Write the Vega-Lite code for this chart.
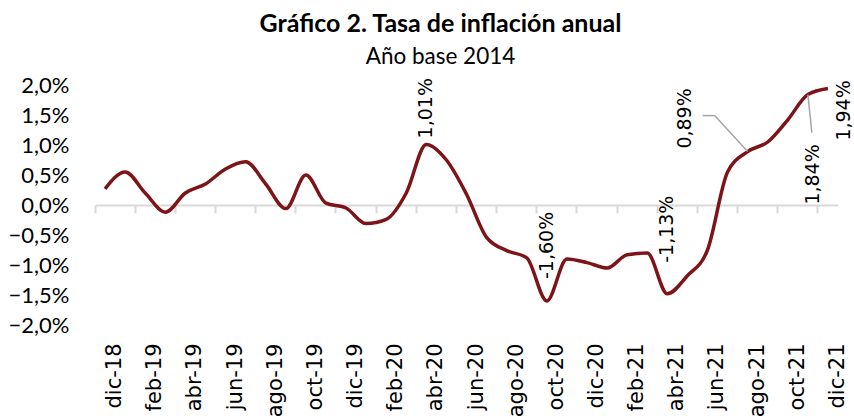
{
  "$schema": "https://vega.github.io/schema/vega-lite/v6.json",
  "width": 743,
  "height": 240,
  "autosize": {"type": "none"},
  "padding": {"left": 95, "top": 85, "right": 16, "bottom": 91},
  "background": "white",
  "title": {
    "text": "Gráfico 2. Tasa de inflación anual",
    "subtitle": "Año base 2014",
    "font": "Lato",
    "fontSize": 25,
    "fontWeight": "bold",
    "color": "black",
    "subtitleFont": "Lato",
    "subtitleFontSize": 22.5,
    "subtitleColor": "black",
    "subtitlePadding": 9,
    "anchor": "middle",
    "frame": "group",
    "dx": -26,
    "offset": 6
  },
  "config": {"view": {"stroke": null}},
  "data": {
    "values": [
      {"mes": "dic-18", "inflacion": 0.27, "etiqueta": ""},
      {"mes": "ene-19", "inflacion": 0.55, "etiqueta": ""},
      {"mes": "feb-19", "inflacion": 0.20, "etiqueta": ""},
      {"mes": "mar-19", "inflacion": -0.12, "etiqueta": ""},
      {"mes": "abr-19", "inflacion": 0.20, "etiqueta": ""},
      {"mes": "may-19", "inflacion": 0.35, "etiqueta": ""},
      {"mes": "jun-19", "inflacion": 0.60, "etiqueta": ""},
      {"mes": "jul-19", "inflacion": 0.72, "etiqueta": ""},
      {"mes": "ago-19", "inflacion": 0.35, "etiqueta": ""},
      {"mes": "sep-19", "inflacion": -0.06, "etiqueta": ""},
      {"mes": "oct-19", "inflacion": 0.50, "etiqueta": ""},
      {"mes": "nov-19", "inflacion": 0.03, "etiqueta": ""},
      {"mes": "dic-19", "inflacion": -0.05, "etiqueta": ""},
      {"mes": "ene-20", "inflacion": -0.31, "etiqueta": ""},
      {"mes": "feb-20", "inflacion": -0.24, "etiqueta": ""},
      {"mes": "mar-20", "inflacion": 0.20, "etiqueta": ""},
      {"mes": "abr-20", "inflacion": 1.01, "etiqueta": "1,01%"},
      {"mes": "may-20", "inflacion": 0.75, "etiqueta": ""},
      {"mes": "jun-20", "inflacion": 0.18, "etiqueta": ""},
      {"mes": "jul-20", "inflacion": -0.54, "etiqueta": ""},
      {"mes": "ago-20", "inflacion": -0.76, "etiqueta": ""},
      {"mes": "sep-20", "inflacion": -0.88, "etiqueta": ""},
      {"mes": "oct-20", "inflacion": -1.60, "etiqueta": "-1,60%"},
      {"mes": "nov-20", "inflacion": -0.90, "etiqueta": ""},
      {"mes": "dic-20", "inflacion": -0.96, "etiqueta": ""},
      {"mes": "ene-21", "inflacion": -1.05, "etiqueta": ""},
      {"mes": "feb-21", "inflacion": -0.83, "etiqueta": ""},
      {"mes": "mar-21", "inflacion": -0.80, "etiqueta": ""},
      {"mes": "abr-21", "inflacion": -1.48, "etiqueta": "-1,13%"},
      {"mes": "may-21", "inflacion": -1.18, "etiqueta": ""},
      {"mes": "jun-21", "inflacion": -0.75, "etiqueta": ""},
      {"mes": "jul-21", "inflacion": 0.55, "etiqueta": ""},
      {"mes": "ago-21", "inflacion": 0.89, "etiqueta": "0,89%"},
      {"mes": "sep-21", "inflacion": 1.05, "etiqueta": ""},
      {"mes": "oct-21", "inflacion": 1.42, "etiqueta": ""},
      {"mes": "nov-21", "inflacion": 1.84, "etiqueta": "1,84%"},
      {"mes": "dic-21", "inflacion": 1.94, "etiqueta": "1,94%"}
    ]
  },
  "encoding": {
    "x": {
      "field": "mes",
      "type": "ordinal",
      "sort": null,
      "scale": {"paddingInner": 0, "paddingOuter": 0},
      "axis": {
        "title": null,
        "orient": "bottom",
        "offset": -120,
        "values": ["dic-18", "feb-19", "abr-19", "jun-19", "ago-19", "oct-19", "dic-19", "feb-20", "abr-20", "jun-20", "ago-20", "oct-20", "dic-20", "feb-21", "abr-21", "jun-21", "ago-21", "oct-21", "dic-21"],
        "bandPosition": 0,
        "labelOffset": 10,
        "labelAngle": 270,
        "labelAlign": "right",
        "labelBaseline": "middle",
        "labelPadding": 130,
        "labelFont": "DejaVu Sans",
        "labelFontSize": 21,
        "labelColor": "black",
        "domain": true,
        "domainColor": "#d9d9d9",
        "domainWidth": 2,
        "ticks": true,
        "tickColor": "#d9d9d9",
        "tickWidth": 2,
        "tickSize": 8,
        "grid": false
      }
    },
    "y": {
      "field": "inflacion",
      "type": "quantitative",
      "scale": {"domain": [-2, 2], "nice": false},
      "axis": {
        "title": null,
        "values": [-2, -1.5, -1, -0.5, 0, 0.5, 1, 1.5, 2],
        "labelExpr": "replace(format(datum.value, '.1f'), '.', ',') + '%'",
        "labelFont": "Lato",
        "labelFontSize": 22,
        "labelColor": "black",
        "labelPadding": 26,
        "domain": false,
        "ticks": false,
        "tickSize": 0,
        "grid": false
      }
    }
  },
  "layer": [
    {
      "mark": {"type": "line", "color": "#7d1518", "strokeWidth": 3.5, "interpolate": "monotone"}
    },
    {
      "transform": [{"filter": "datum.mes == 'ago-21'"}],
      "mark": {"type": "rule", "color": "#a6a6a6", "strokeWidth": 1.5, "x2Offset": -33, "y2Offset": -36},
      "encoding": {"x2": {"field": "mes"}, "y2": {"field": "inflacion"}}
    },
    {
      "transform": [{"filter": "datum.mes == 'ago-21'"}],
      "mark": {"type": "rule", "color": "#a6a6a6", "strokeWidth": 1.5, "xOffset": -33, "yOffset": -36, "x2Offset": -45, "y2Offset": -36},
      "encoding": {"x2": {"field": "mes"}, "y2": {"field": "inflacion"}}
    },
    {
      "transform": [{"filter": "datum.mes == 'nov-21'"}],
      "mark": {"type": "rule", "color": "#a6a6a6", "strokeWidth": 1.5, "x2Offset": 4, "y2Offset": 38},
      "encoding": {"x2": {"field": "mes"}, "y2": {"field": "inflacion"}}
    },
    {
      "transform": [{"filter": "datum.mes == 'abr-20'"}],
      "mark": {"type": "text", "angle": 270, "align": "left", "baseline": "middle", "dx": 6, "font": "DejaVu Sans", "fontSize": 19, "color": "black"},
      "encoding": {"text": {"field": "etiqueta"}}
    },
    {
      "transform": [{"filter": "datum.mes == 'oct-20'"}],
      "mark": {"type": "text", "angle": 270, "align": "left", "baseline": "middle", "dx": 22, "font": "DejaVu Sans", "fontSize": 19, "color": "black"},
      "encoding": {"text": {"field": "etiqueta"}}
    },
    {
      "transform": [{"filter": "datum.mes == 'abr-21'"}],
      "mark": {"type": "text", "angle": 270, "align": "left", "baseline": "middle", "dx": 31, "font": "DejaVu Sans", "fontSize": 19, "color": "black"},
      "encoding": {"text": {"field": "etiqueta"}}
    },
    {
      "transform": [{"filter": "datum.mes == 'ago-21'"}],
      "mark": {"type": "text", "angle": 270, "align": "left", "baseline": "middle", "dx": 3, "dy": -63, "font": "DejaVu Sans", "fontSize": 19, "color": "black"},
      "encoding": {"text": {"field": "etiqueta"}}
    },
    {
      "transform": [{"filter": "datum.mes == 'nov-21'"}],
      "mark": {"type": "text", "angle": 270, "align": "left", "baseline": "middle", "dx": -110, "dy": 5, "font": "DejaVu Sans", "fontSize": 19, "color": "black"},
      "encoding": {"text": {"field": "etiqueta"}}
    },
    {
      "transform": [{"filter": "datum.mes == 'dic-21'"}],
      "mark": {"type": "text", "angle": 270, "align": "left", "baseline": "middle", "dx": -52, "dy": 16, "font": "DejaVu Sans", "fontSize": 19, "color": "black"},
      "encoding": {"text": {"field": "etiqueta"}}
    }
  ]
}
